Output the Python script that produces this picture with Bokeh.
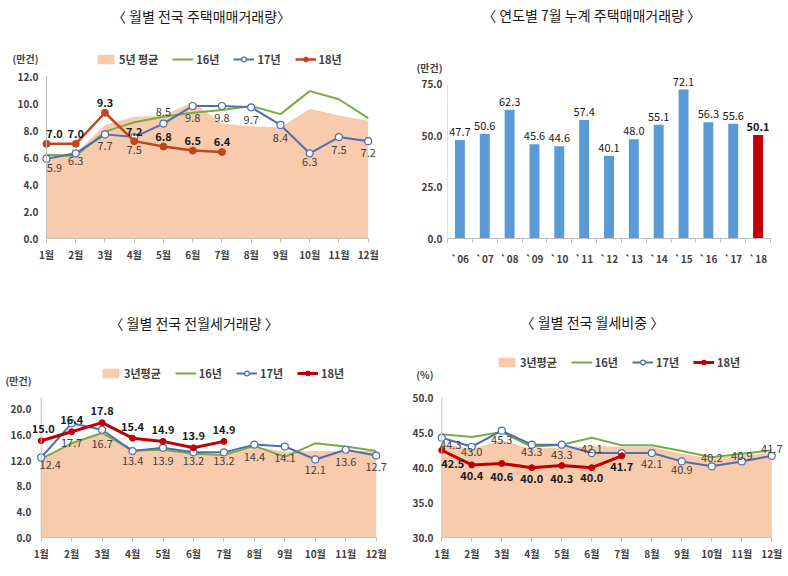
from bokeh.plotting import figure
from bokeh.models import (ColumnDataSource, Range1d, FixedTicker, PrintfTickFormatter,
                          Legend, LegendItem, Label, Spacer)
from bokeh.layouts import row, column
from bokeh.embed import file_html
from bokeh.resources import INLINE
from bokeh.core.properties import value

FONT = "Noto Sans CJK KR"

# ---------------- data ----------------
months = ["1월", "2월", "3월", "4월", "5월", "6월", "7월", "8월", "9월", "10월", "11월", "12월"]
month_num = [1, 2, 3, 4, 5, 6, 7, 8, 9, 10, 11, 12]

# Panel 1: 월별 전국 주택매매거래량 (만건)
sales_avg5 = [5.8, 6.3, 8.4, 9.0, 9.1, 10.1, 8.5, 8.3, 8.2, 9.6, 9.1, 8.7]
sales_16 = [6.2, 6.1, 7.9, 8.6, 9.0, 9.3, 9.5, 9.8, 9.2, 10.9, 10.3, 8.9]
sales_17 = [5.9, 6.3, 7.7, 7.5, 8.5, 9.8, 9.8, 9.7, 8.4, 6.3, 7.5, 7.2]
sales_18 = [7.0, 7.0, 9.3, 7.2, 6.8, 6.5, 6.4]

# Panel 2: 연도별 7월 누계 주택매매거래량 (만건)
years = ["`06", "`07", "`08", "`09", "`10", "`11", "`12", "`13", "`14", "`15", "`16", "`17", "`18"]
cum_sales = [47.7, 50.6, 62.3, 45.6, 44.6, 57.4, 40.1, 48.0, 55.1, 72.1, 56.3, 55.6, 50.1]

# Panel 3: 월별 전국 전월세거래량 (만건)
rent_avg3 = [12.2, 14.8, 16.4, 13.5, 13.6, 13.1, 12.9, 14.1, 13.3, 13.4, 13.4, 13.4]
rent_16 = [12.2, 14.6, 16.2, 13.5, 13.6, 13.0, 12.8, 14.2, 12.5, 14.6, 14.1, 13.4]
rent_17 = [12.4, 17.7, 16.7, 13.4, 13.9, 13.2, 13.2, 14.4, 14.1, 12.1, 13.6, 12.7]
rent_18 = [15.0, 16.4, 17.8, 15.4, 14.9, 13.9, 14.9]

# Panel 4: 월별 전국 월세비중 (%)
mrent_avg3 = [43.4, 42.7, 43.9, 42.7, 42.9, 43.1, 43.0, 43.0, 42.0, 41.3, 41.8, 42.1]
mrent_16 = [44.8, 44.4, 45.1, 43.0, 43.3, 44.3, 43.2, 43.2, 42.4, 41.5, 42.0, 42.5]
mrent_17 = [44.3, 43.0, 45.3, 43.3, 43.3, 42.1, 42.1, 42.1, 40.9, 40.2, 40.9, 41.7]
mrent_18 = [42.5, 40.4, 40.6, 40.0, 40.3, 40.0, 41.7]

# ---------------- styles ----------------
AREA = "#F8CBAD"
GREEN = "#77AC45"
BLUE = "#4F6EB0"
RED1 = "#C0461E"
RED2 = "#C00000"
BAR = "#5B9BD5"
AXIS = "#BFBFBF"
TXT = "#404040"


def base_fig(w, h, xr, yr, borders):
    left, right, top, bottom = borders
    p = figure(width=w, height=h, output_backend="svg", toolbar_location=None,
               x_range=xr, y_range=yr, title=None,
               min_border_left=left, min_border_right=right,
               min_border_top=top, min_border_bottom=bottom)
    p.xgrid.visible = False
    p.ygrid.visible = False
    p.outline_line_color = None
    for ax in (p.xaxis[0], p.yaxis[0]):
        ax.major_label_text_font = FONT
        ax.major_label_text_font_size = "10px"
        ax.major_label_text_font_style = "bold"
        ax.major_label_text_color = TXT
        ax.minor_tick_line_color = None
    p.yaxis.major_tick_line_color = None
    p.yaxis.major_tick_out = 0
    p.yaxis.minor_tick_out = 0
    p.yaxis.major_tick_in = 0
    p.yaxis.minor_tick_in = 0
    p.yaxis.axis_line_color = None
    p.yaxis.major_label_standoff = 1
    p.xaxis.axis_line_color = AXIS
    return p


def y_axis(p, yticks, unit, unit_y, axis_x, axis_top, fmt="%.1f"):
    p.yaxis.ticker = FixedTicker(ticks=list(yticks) + [unit_y])
    p.yaxis.formatter = PrintfTickFormatter(format=fmt)
    p.yaxis.major_label_overrides = {unit_y: unit}
    p.segment(x0=[axis_x], y0=[yticks[0]], x1=[axis_x], y1=[axis_top],
              line_color=AXIS, line_width=1)


def add_title(p, text, x, y):
    p.add_layout(Label(x=x, y=y, text=text, text_font=FONT, text_font_size="14px",
                       text_color="#1a1a1a", text_align="center", text_baseline="middle"))


def month_fig(w, h, xr, yr, borders):
    p = base_fig(w, h, xr, yr, borders)
    p.xaxis.ticker = FixedTicker(ticks=month_num)
    p.xaxis.major_label_overrides = {m: lab for m, lab in zip(month_num, months)}
    p.xaxis.bounds = (1, 12)
    p.xaxis.major_tick_line_color = AXIS
    p.xaxis.major_tick_out = 4
    p.xaxis.major_tick_in = 0
    p.xaxis.major_label_standoff = 4
    return p


def add_series(p, y0, avg, s16, s17, s18, red, red_size, red_width, labels, loc):
    n18 = len(s18)
    area = p.varea(x=month_num, y1=[y0] * 12, y2=avg, fill_color=AREA)
    g = p.line(month_num, s16, line_color=GREEN, line_width=2)
    b = p.line(month_num, s17, line_color=BLUE, line_width=2)
    bs = p.scatter(month_num, s17, size=7, fill_color="white", line_color=BLUE, line_width=1.2)
    r = p.line(month_num[:n18], s18, line_color=red, line_width=red_width)
    rs = p.scatter(month_num[:n18], s18, size=red_size, fill_color=red, line_color=red)
    items = [LegendItem(label=labels[0], renderers=[area]),
             LegendItem(label=labels[1], renderers=[g]),
             LegendItem(label=labels[2], renderers=[b, bs]),
             LegendItem(label=labels[3], renderers=[r, rs])]
    lg = Legend(items=items, orientation="horizontal", location=loc,
                border_line_color=None, background_fill_alpha=0,
                label_text_font=FONT, label_text_font_size="11px",
                label_text_font_style="bold", label_text_color=TXT,
                glyph_width=21, glyph_height=12, label_height=14,
                spacing=14, padding=0, margin=0, label_standoff=3)
    p.add_layout(lg, "center")


def add_labels(p, xs, ys, dys, color, style, dxs=None, show=None):
    n = len(ys)
    dxs = dxs if dxs is not None else [0] * n
    show = show if show is not None else [True] * n
    keep = [i for i in range(n) if show[i]]
    src = ColumnDataSource(dict(x=[xs[i] for i in keep], y=[ys[i] for i in keep],
                                t=["%.1f" % ys[i] for i in keep],
                                dy=[dys[i] for i in keep], dx=[dxs[i] for i in keep]))
    p.text(x="x", y="y", text="t", x_offset="dx", y_offset="dy", source=src,
           text_font=value(FONT), text_font_size="11px", text_font_style=style,
           text_color=color, text_align="center", text_baseline="middle")


def first_shift(n, shift):
    return [shift] + [0] * (n - 1)


# ---------------- Panel 1 ----------------
p1 = month_fig(386, 288, Range1d(1 - 0.239, 12 + 0.455), Range1d(0, 17.6), (31, 13, 0, 46))
add_series(p1, 0, sales_avg5, sales_16, sales_17, sales_18, RED1, 7, 2.5,
           ["5년 평균", "16년", "17년", "18년"], (56, 171))
y_axis(p1, [0, 2, 4, 6, 8, 10, 12], "(만건)", 13.3, 1, 12)
dy17_1 = [9, 8, 12, 13, -12, 12, 12, 13, 13, 9, 13, 12]
add_labels(p1, month_num, sales_17, dy17_1, TXT, "normal", first_shift(12, 8))
add_labels(p1, month_num[:len(sales_18)], sales_18, [-10] * len(sales_18), "#1a1a1a", "bold",
           first_shift(len(sales_18), 8))
add_title(p1, "〈 월별 전국 주택매매거래량〉", 6.30, 16.45)

# ---------------- Panel 2 ----------------
idx = list(range(len(years)))
bar_colors = [BAR] * (len(years) - 1) + [RED2]
p2 = base_fig(386, 288, Range1d(-0.5, len(years) - 0.5), Range1d(0, 115.2), (53, 10, 0, 50))
p2.vbar(x=idx, top=cum_sales, width=0.4, fill_color=bar_colors, line_color=None)
y_axis(p2, [0, 25, 50, 75], "(만건)", 83, -0.5, 75)
p2.yaxis.major_label_standoff = 5
p2.xaxis.ticker = FixedTicker(ticks=idx, minor_ticks=[i - 0.5 for i in range(len(years) + 1)])
p2.xaxis.major_label_overrides = {i: y for i, y in zip(idx, years)}
p2.xaxis.major_tick_line_color = None
p2.xaxis.minor_tick_line_color = AXIS
p2.xaxis.minor_tick_out = 4
p2.xaxis.minor_tick_in = 0
p2.xaxis.major_label_standoff = 6
bar_styles = ["normal"] * (len(years) - 1) + ["bold"]
src2 = ColumnDataSource(dict(x=idx, y=cum_sales, t=["%.1f" % v for v in cum_sales], s=bar_styles))
p2.text(x="x", y="y", text="t", text_font_style="s", y_offset=-8, source=src2,
        text_font=value(FONT), text_font_size="11px", text_color="#1a1a1a",
        text_align="center", text_baseline="middle")
add_title(p2, "〈 연도별 7월 누계 주택매매거래량 〉", 5.30, 108.0)

# ---------------- Panel 3 ----------------
p3 = month_fig(394, 288, Range1d(1 - 0.286, 12 + 0.437), Range1d(0, 38.6), (32, 5, 0, 39))
add_series(p3, 0, rent_avg3, rent_16, rent_17, rent_18, RED2, 6, 3,
           ["3년평균", "16년", "17년", "18년"], (68, 156))
y_axis(p3, [0, 4, 8, 12, 16, 20], "(만건)", 24.3, 1, 21.8)
dy17_3 = [7, 20, 14, 10, 13, 9, 9, 12, 11, 11, 12, 11]
add_labels(p3, month_num, rent_17, dy17_3, TXT, "normal", first_shift(12, 9))
add_labels(p3, month_num[:len(rent_18)], rent_18, [-12] * len(rent_18), "#1a1a1a", "bold",
           first_shift(len(rent_18), 2))
add_title(p3, "〈 월별 전국 전월세거래량 〉", 6.02, 33.3)

# ---------------- Panel 4 ----------------
p4 = month_fig(390, 288, Range1d(1 - 0.243, 12 + 0.39), Range1d(30, 65.67), (40, 1, 0, 34))
add_series(p4, 30, mrent_avg3, mrent_16, mrent_17, mrent_18, RED2, 6, 3,
           ["3년평균", "16년", "17년", "18년"], (62, 167))
y_axis(p4, [30, 35, 40, 45, 50], "(%)", 53.3, 1, 50)
dy17_4 = [7, 5, 9, 7, 10, -4, 11, 11, 9, -8, -5, -7]
show17_4 = [True] * 6 + [False] + [True] * 5
add_labels(p4, month_num, mrent_17, dy17_4, TXT, "normal", first_shift(12, 9), show17_4)
add_labels(p4, month_num[:len(mrent_18)], mrent_18, [13, 11, 13, 11, 13, 10, 11], "#1a1a1a", "bold",
           first_shift(len(mrent_18), 11))
add_title(p4, "〈 월별 전국 월세비중 〉", 6.02, 60.9)

layout = column(row(Spacer(width=8), p1, p2), row(p3, p4))
open("out.html", "w").write(file_html(layout, INLINE))
